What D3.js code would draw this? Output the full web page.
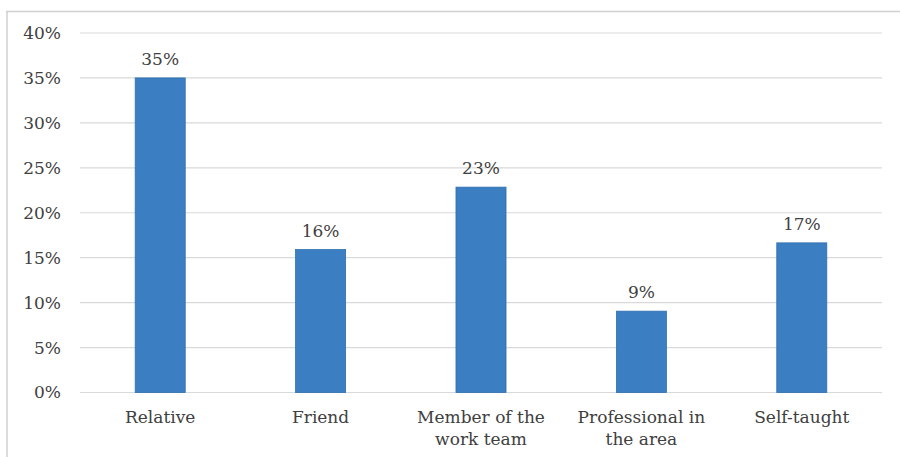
<!DOCTYPE html>
<html><head><meta charset="utf-8">
<script src="https://cdn.jsdelivr.net/npm/d3@7"></script>
<style>body{margin:0;background:#fff}</style>
</head><body>
<svg id="c" width="900" height="457"></svg>
<script>
const categories = [["Relative"],["Friend"],["Member of the","work team"],["Professional in","the area"],["Self-taught"]];
const values = [35, 15.9, 22.85, 9.05, 16.65];
const valueLabels = ["35%","16%","23%","9%","17%"];
const yTicks = [0,5,10,15,20,25,30,35,40];

const svg = d3.select("#c");
const font = "DejaVu Serif";
const textColor = "#404040";
const fs = 17;
// frame
svg.append("line").attr("x1",6).attr("x2",900).attr("y1",11.5).attr("y2",11.5).attr("stroke","#d0d0d0").attr("stroke-width",1.5);
svg.append("line").attr("x1",7).attr("x2",7).attr("y1",11).attr("y2",457).attr("stroke","#d0d0d0").attr("stroke-width",1.5);

const x = d3.scaleBand().domain(d3.range(categories.length)).range([80,882]).paddingInner(0.688).paddingOuter(0.344);
const y = d3.scaleLinear().domain([0,40]).range([392.5,33]);

const g = svg.append("g");
g.selectAll("line.grid").data(yTicks).join("line").attr("class","grid")
 .attr("x1",80).attr("x2",882).attr("y1",d=>y(d)).attr("y2",d=>y(d))
 .attr("stroke","#d9d9d9").attr("stroke-width",1.2);

g.selectAll("text.yt").data(yTicks).join("text").attr("class","yt")
 .attr("x",61).attr("y",d=>y(d)).attr("dy","0.35em").attr("text-anchor","end")
 .attr("font-family",font).attr("font-size",fs).attr("fill",textColor).text(d=>d+"%");

g.selectAll("rect").data(values).join("rect")
 .attr("x",(d,i)=>x(i)).attr("width",x.bandwidth())
 .attr("y",d=>y(d)).attr("height",d=>y(0)-y(d))
 .attr("fill","#3b7fc2").attr("stroke","#2f6fb0").attr("stroke-width",0.8);

g.selectAll("text.vl").data(values).join("text").attr("class","vl")
 .attr("x",(d,i)=>x(i)+x.bandwidth()/2).attr("y",d=>y(d)-13)
 .attr("text-anchor","middle").attr("font-family",font).attr("font-size",fs).attr("fill",textColor)
 .text((d,i)=>valueLabels[i]);

categories.forEach((lines,i)=>{
  const t = g.append("text").attr("x",x(i)+x.bandwidth()/2).attr("y",423)
   .attr("text-anchor","middle").attr("font-family",font).attr("font-size",fs).attr("fill",textColor);
  lines.forEach((l,j)=>t.append("tspan").attr("x",x(i)+x.bandwidth()/2).attr("dy",j?22:0).text(l));
});
</script>
</body></html>
